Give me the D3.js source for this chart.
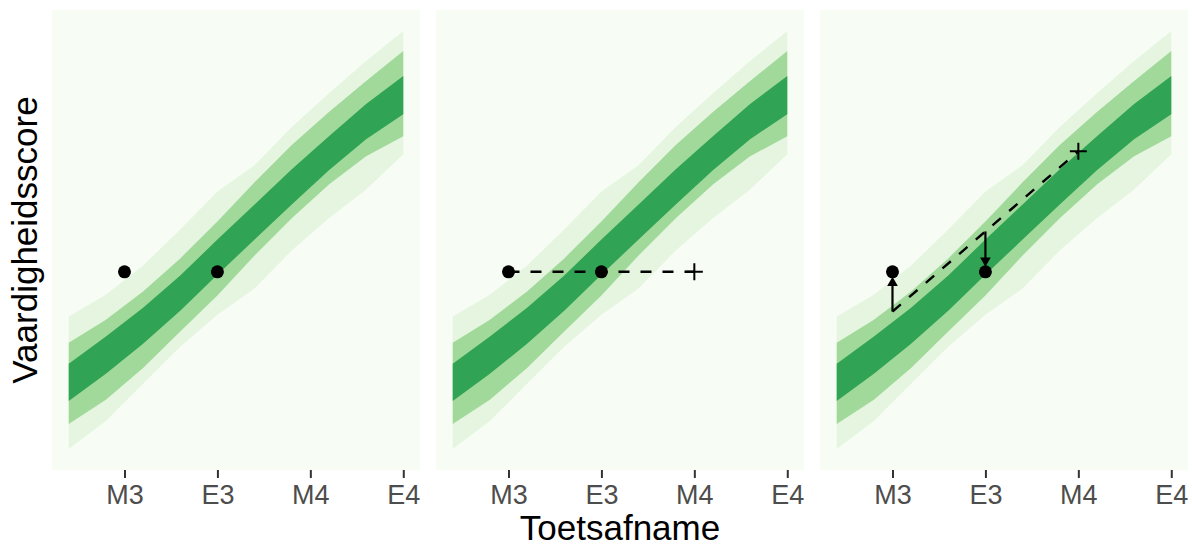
<!DOCTYPE html>
<html>
<head>
<meta charset="utf-8">
<script src="https://cdn.jsdelivr.net/npm/d3@7"></script>
<style>
  html, body { margin: 0; padding: 0; background: #ffffff; }
  svg { display: block; }
</style>
</head>
<body>
<svg id="chart" width="1192" height="548"></svg>
<script>
// ---------- data ----------
const categories = ["M3", "E3", "M4", "E4"];
const categoryPos = [0, 1, 2, 3];
// band knots on the time axis (M3 = 0, E4 = 3)
const bandT = [-0.6, -0.2, 0.2, 0.6, 1.0, 1.4, 1.8, 2.2, 2.6, 3.0];
// percentile bands (score units)
const outerUpper = [31.7, 36.9, 43.9, 52.5, 61.6, 67.9, 77.0, 85.1, 92.8, 100.0];
const midUpper   = [25.4, 30.9, 37.7, 45.6, 54.4, 63.8, 72.7, 80.6, 88.0, 95.2];
const darkUpper  = [20.4, 26.9, 33.8, 41.5, 50.1, 58.5, 66.9, 74.8, 82.5, 89.2];
const darkLower  = [11.5, 18.0, 25.2, 33.1, 41.7, 50.1, 58.5, 66.7, 74.1, 80.1];
const midLower   = [ 6.0, 11.8, 19.4, 28.1, 36.7, 46.3, 55.2, 63.3, 70.0, 74.8];
const outerLower = [ 0.0,  6.7, 15.6, 24.5, 32.1, 38.4, 47.5, 55.2, 62.1, 70.5];
// observed scores at M3 and E3
const observed = [42.4, 42.4];
// panel 2: prediction stays level until M4
const predictFlat = [42.4, 42.4, 42.4];
// panel 3: expected growth trajectory M3 -> E3 -> M4
const expectedGrowth = [32.9, 52.05, 71.2];

// ---------- layout ----------
const colors = { bg: "#F7FCF5", outer: "#E5F5E0", mid: "#A1D99B", dark: "#31A354" };
const panelLefts = [52, 436, 820];
const panelW = 368;
const panelTop = 10, panelBottom = 470;
const font = "'Liberation Sans', Arial, sans-serif";

const svg = d3.select("#chart");

const tMin = d3.min(bandT), tMax = d3.max(categoryPos);
const tPad = (tMax - tMin) * 0.05;
const yAll = outerUpper.concat(outerLower);
const yMin = d3.min(yAll), yMax = d3.max(yAll);
const yPad = (yMax - yMin) * 0.05;
const y = d3.scaleLinear().domain([yMin - yPad, yMax + yPad]).range([panelBottom, panelTop]);

const bandRows = bandT.map((t, i) => ({
  t, ou: outerUpper[i], mu: midUpper[i], du: darkUpper[i],
  dl: darkLower[i], ml: midLower[i], ol: outerLower[i]
}));

const dotR = 6.5;

function drawPlus(g, cx, cy) {
  const s = 8.5;
  g.append("path").attr("d", `M${cx - s},${cy}H${cx + s}M${cx},${cy - s}V${cy + s}`)
    .attr("stroke", "#000").attr("stroke-width", 2).attr("fill", "none");
}

function drawArrow(g, x1, y1, x2, y2) {
  const ang = Math.atan2(y2 - y1, x2 - x1);
  const L = 8, a = Math.PI / 6;
  const p1 = [x2 - L * Math.cos(ang - a), y2 - L * Math.sin(ang - a)];
  const p2 = [x2 - L * Math.cos(ang + a), y2 - L * Math.sin(ang + a)];
  g.append("line").attr("x1", x1).attr("y1", y1)
    .attr("x2", x2 - 5 * Math.cos(ang)).attr("y2", y2 - 5 * Math.sin(ang))
    .attr("stroke", "#000").attr("stroke-width", 2.2);
  g.append("path").attr("d", `M${p1[0]},${p1[1]}L${x2},${y2}L${p2[0]},${p2[1]}Z`)
    .attr("fill", "#000").attr("stroke", "#000").attr("stroke-width", 1.5)
    .attr("stroke-linejoin", "miter");
}

panelLefts.forEach((left, p) => {
  const x = d3.scaleLinear().domain([tMin - tPad, tMax + tPad]).range([left, left + panelW]);
  const g = svg.append("g");

  g.append("rect")
    .attr("x", left).attr("y", panelTop)
    .attr("width", panelW).attr("height", panelBottom - panelTop)
    .attr("fill", colors.bg);

  const area = (lo, hi) => d3.area().x(d => x(d.t)).y0(d => y(d[lo])).y1(d => y(d[hi]));
  g.append("path").datum(bandRows).attr("d", area("ol", "ou")).attr("fill", colors.outer);
  g.append("path").datum(bandRows).attr("d", area("ml", "mu")).attr("fill", colors.mid);
  g.append("path").datum(bandRows).attr("d", area("dl", "du")).attr("fill", colors.dark);

  // dashed prediction lines
  if (p === 1) {
    const pts = predictFlat.map((v, i) => [x(categoryPos[i]), y(v)]);
    g.append("path").attr("d", d3.line()([pts[0], pts[2]]))
      .attr("fill", "none").attr("stroke", "#000").attr("stroke-width", 2.4)
      .attr("stroke-dasharray", "11,11");
    drawPlus(g, pts[2][0], pts[2][1]);
  }
  if (p === 2) {
    const pts = expectedGrowth.map((v, i) => [x(categoryPos[i]), y(v)]);
    g.append("path").attr("d", d3.line()([pts[0], pts[2]]))
      .attr("fill", "none").attr("stroke", "#000").attr("stroke-width", 2.4)
      .attr("stroke-dasharray", "11,11");
    drawPlus(g, pts[2][0], pts[2][1]);
    // arrows from expected to observed
    observed.forEach((v, i) => {
      const x0 = x(categoryPos[i]);
      const yS = y(expectedGrowth[i]);
      const yO = y(v);
      const dir = yO < yS ? 1 : -1; // 1 = up
      drawArrow(g, x0, yS, x0, yO + dir * dotR);
    });
  }

  // observed points
  observed.forEach((v, i) => {
    g.append("circle").attr("cx", x(categoryPos[i])).attr("cy", y(v))
      .attr("r", dotR).attr("fill", "#000");
  });

  // x axis
  const axis = d3.axisBottom(x).tickValues(categoryPos)
    .tickFormat((d, i) => categories[i]).tickSize(8).tickPadding(7);
  const ag = svg.append("g").attr("transform", `translate(0,${panelBottom})`).call(axis);
  ag.select(".domain").remove();
  ag.selectAll(".tick line").attr("stroke", "#333333").attr("stroke-width", 2);
  ag.selectAll(".tick text").attr("fill", "#4D4D4D")
    .style("font-family", font).style("font-size", "27px");
});

// axis titles
svg.append("text")
  .attr("x", (panelLefts[0] + panelLefts[2] + panelW) / 2).attr("y", 540)
  .attr("text-anchor", "middle")
  .style("font-family", font).style("font-size", "35px")
  .attr("fill", "#000").text("Toetsafname");

svg.append("text")
  .attr("transform", `translate(37,${(panelTop + panelBottom) / 2}) rotate(-90)`)
  .attr("text-anchor", "middle")
  .style("font-family", font).style("font-size", "35px")
  .attr("fill", "#000").text("Vaardigheidsscore");
</script>
</body>
</html>
